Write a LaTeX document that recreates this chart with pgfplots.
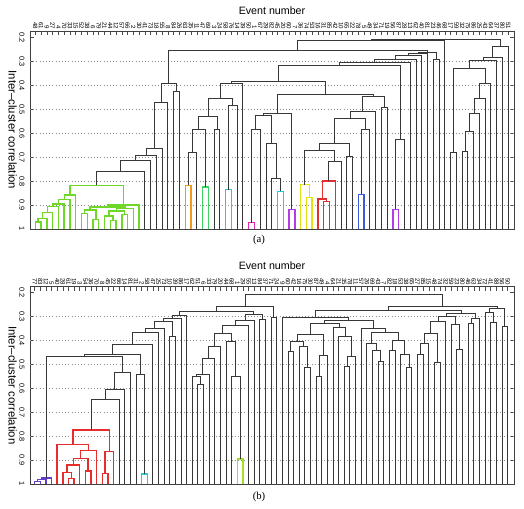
\documentclass[border=0pt]{standalone}
\usepackage{pgfplots}
\pgfplotsset{compat=1.18}
\usepackage{fontspec}
\setmainfont{Liberation Sans}
\newfontfamily\seriffont{Liberation Serif}
\definecolor{dk}{RGB}{55,55,55}
\definecolor{gA}{RGB}{110,215,40}
\definecolor{gB}{RGB}{60,210,100}
\definecolor{orng}{RGB}{240,155,30}
\definecolor{cyn}{RGB}{30,205,215}
\definecolor{mag}{RGB}{225,40,180}
\definecolor{pur}{RGB}{180,60,225}
\definecolor{yel}{RGB}{225,225,20}
\definecolor{rd}{RGB}{230,45,45}
\definecolor{blu}{RGB}{60,90,215}
\definecolor{vio}{RGB}{100,60,205}
\definecolor{ylg}{RGB}{160,225,40}
% link: [colour]{x left}{y left}{x right}{y right}{merge height}
\newcommand{\lk}[6][dk]{\addplot[#1,line width=0.75pt] coordinates {(#2,#3) (#2,#6) (#4,#6) (#4,#5)};}
\newcommand{\ck}[6][dk]{\addplot[#1,line width=1.05pt] coordinates {(#2,#3) (#2,#6) (#4,#6) (#4,#5)};}
\pgfplotsset{dendro/.style={
  scale only axis, width=363pt,
  y dir=reverse, ymax=1,
  axis line style={draw=black!75, line width=0.5pt},
  xtick pos=upper, xticklabel pos=upper,
  ytick pos=both, yticklabel pos=left,
  tick align=inside, major tick length=3pt,
  tick style={black!70, line width=0.4pt},
  ytick={0.2,0.3,0.4,0.5,0.6,0.7,0.8,0.9,1},
  yticklabels={0.2,0.3,0.4,0.5,0.6,0.7,0.8,0.9,1},
  yticklabel style={rotate=-90, anchor=north, font=\fontsize{5.5}{6}\selectfont, inner sep=1pt, yshift=-3pt},
  xticklabel style={rotate=-90, anchor=east, font=\fontsize{4.6}{5}\selectfont, inner sep=1pt},
  extra y ticks={0.3,0.4,0.5,0.6,0.7,0.8,0.9},
  extra y tick labels={},
  extra y tick style={grid=major, major tick length=0pt},
  major grid style={black!45, dotted, line width=0.5pt},
  every axis y label/.style={at={(axis description cs:0,0.5)}, xshift=-13pt, rotate=-90, anchor=center, font=\fontsize{8.5}{10}\selectfont},
  ylabel={Inter--cluster correlation},
  every axis title shift=0pt,
  title={Event number},
  title style={at={(axis description cs:0.5,1)}, yshift=15.5pt, anchor=center, font=\fontsize{8}{9}\selectfont},
}}
\begin{document}
\begin{tikzpicture}
\path[use as bounding box] (0,0) rectangle (393pt,-381.75pt);
%================ (a) =================
\begin{axis}[dendro, at={(22.5pt,-171.75pt)}, anchor=south west, height=148.5pt,
  ymin=0.172, xmin=-0.92, xmax=82.99,
  xtick={0,...,82},
  xticklabels={48,61,9,27,4,70,33,15,52,38,6,79,21,44,12,57,66,2,30,41,73,18,55,8,84,26,63,35,11,47,69,3,24,58,76,14,39,50,1,67,29,82,45,20,60,7,36,74,53,16,31,85,42,10,65,22,78,5,49,34,71,19,56,87,28,13,62,40,81,23,46,68,17,59,32,75,86,25,43,64,37,80,51}]
% green cluster
\ck[gA]{0}{1}{1}{1}{0.97}
\ck[gA]{0.5}{0.97}{2}{1}{0.955}
\ck[gA]{1.25}{0.955}{3}{1}{0.93}
\ck[gA]{2.125}{0.93}{4}{1}{0.907}
\ck[gA]{3.0625}{0.907}{5}{1}{0.896}
\ck[gA]{4.031}{0.896}{6}{1}{0.876}
\ck[gA]{5.016}{0.876}{7}{1}{0.858}
\ck[gA]{8}{1}{9}{1}{0.935}
\ck[gA]{10}{1}{11}{1}{0.96}
\ck[gA]{8.5}{0.935}{10.5}{0.96}{0.92}
\ck[gA]{13}{1}{14}{1}{0.965}
\ck[gA]{12}{1}{13.5}{0.965}{0.945}
\ck[gA]{15}{1}{16}{1}{0.94}
\ck[gA]{12.75}{0.945}{15.5}{0.94}{0.925}
\ck[gA]{14.125}{0.925}{17}{1}{0.915}
\ck[gA]{9.5}{0.92}{15.5625}{0.915}{0.908}
\ck[gA]{12.53}{0.908}{18}{1}{0.9}
\ck[gA]{6.008}{0.858}{15.265}{0.9}{0.818}
% black chain
\lk{10.64}{0.818}{19}{1}{0.758}
\lk{14.82}{0.758}{20}{1}{0.714}
\lk{17.41}{0.714}{21}{1}{0.693}
\lk{19.205}{0.693}{22}{1}{0.662}
\lk{20.60}{0.662}{23}{1}{0.471}
\lk{24}{1}{25}{1}{0.425}
\lk{21.80}{0.471}{24.5}{0.425}{0.39}
% middle
\ck[orng]{26}{1}{27}{1}{0.817}
\lk{26.5}{0.817}{28}{1}{0.679}
\ck[gB]{29}{1}{30}{1}{0.825}
\lk{27.25}{0.679}{29.5}{0.825}{0.585}
\lk{31}{1}{32}{1}{0.585}
\lk{28.375}{0.585}{31.5}{0.585}{0.53}
\ck[cyn]{33}{1}{34}{1}{0.835}
\lk{33.5}{0.835}{35}{1}{0.485}
\lk{29.94}{0.53}{34.25}{0.485}{0.4525}
\lk{32.09}{0.4525}{36}{1}{0.39}
\ck[mag]{37}{1}{38}{1}{0.974}
\lk{37.5}{0.974}{39}{1}{0.585}
\ck[cyn]{42}{1}{43}{1}{0.842}
\lk{41}{1}{42.5}{0.842}{0.79}
\lk{40}{1}{41.75}{0.79}{0.643}
\lk{38.25}{0.585}{40.875}{0.643}{0.527}
\ck[pur]{44}{1}{45}{1}{0.918}
\lk{39.56}{0.527}{44.5}{0.918}{0.515}
\ck[yel]{47}{1}{48}{1}{0.869}
\ck[yel]{46}{1}{47.5}{0.869}{0.814}
\ck[rd]{50}{1}{51}{1}{0.885}
\ck[rd]{49}{1}{50.5}{0.885}{0.875}
\ck[rd]{49.75}{0.875}{52}{1}{0.8}
\lk{50.875}{0.8}{53}{1}{0.717}
\lk{46.75}{0.814}{51.94}{0.717}{0.671}
\lk{54}{1}{55}{1}{0.695}
\lk{49.34}{0.671}{54.5}{0.695}{0.643}
\ck[blu]{56}{1}{57}{1}{0.855}
\lk{56.5}{0.855}{58}{1}{0.582}
\lk{51.92}{0.643}{57.25}{0.582}{0.54}
\lk{54.585}{0.54}{59}{1}{0.508}
\lk{60}{1}{61}{1}{0.494}
\lk{56.79}{0.508}{60.5}{0.494}{0.446}
\lk{42.03}{0.515}{58.65}{0.446}{0.439}
\lk{34.05}{0.39}{50.34}{0.439}{0.383}
\ck[pur]{62}{1}{63}{1}{0.918}
\lk{62.5}{0.918}{64}{1}{0.626}
\lk{42.195}{0.383}{63.25}{0.626}{0.317}
\lk{52.72}{0.317}{65}{1}{0.303}
\lk{58.86}{0.303}{66}{1}{0.29}
\lk{62.43}{0.29}{67}{1}{0.275}
\lk{64.715}{0.275}{68}{1}{0.268}
\lk{69}{1}{70}{1}{0.29}
\lk{66.36}{0.268}{69.5}{0.29}{0.26}
\lk{23.15}{0.39}{67.93}{0.26}{0.254}
\lk{45.54}{0.254}{71}{1}{0.212}
% right
\lk{72}{1}{73}{1}{0.679}
\lk{74}{1}{75}{1}{0.675}
\lk{74.5}{0.675}{76}{1}{0.592}
\lk{75.25}{0.592}{77}{1}{0.515}
\lk{76.125}{0.515}{78}{1}{0.453}
\lk{77.06}{0.453}{79}{1}{0.39}
\lk{72.5}{0.679}{78.03}{0.39}{0.328}
\lk{75.27}{0.328}{80}{1}{0.295}
\lk{77.63}{0.295}{81}{1}{0.283}
\lk{79.32}{0.283}{82}{1}{0.237}
\lk{58.27}{0.212}{80.66}{0.237}{0.208}
\end{axis}
%================ (b) =================
\begin{axis}[dendro, at={(22.5pt,-363pt)}, anchor=south west, height=148pt,
  ymin=0.175, xmin=-0.83, xmax=85.13,
  xtick={0,...,84},
  xticklabels={77,83,12,5,40,28,61,19,3,54,36,70,8,45,22,66,14,81,31,2,58,47,25,73,10,39,86,17,62,51,6,33,79,20,44,68,1,29,55,13,84,37,71,24,9,60,42,16,75,30,87,49,4,64,21,35,78,11,57,26,69,43,7,82,18,53,38,65,27,85,15,48,74,32,59,23,80,46,63,34,72,41,88,56,50}]
\ck[vio]{0}{1}{1}{1}{0.99}
\ck[vio]{0.5}{0.99}{2}{1}{0.982}
\ck[vio]{1.25}{0.982}{3}{1}{0.975}
\ck[rd]{6}{1}{7}{1}{0.977}
\ck[rd]{5}{1}{6.5}{0.977}{0.952}
\ck[rd]{5.75}{0.952}{8}{1}{0.921}
\ck[rd]{9}{1}{10}{1}{0.946}
\ck[rd]{6.875}{0.921}{9.5}{0.946}{0.893}
\ck[rd]{8.19}{0.893}{11}{1}{0.861}
\ck[rd]{4}{1}{9.59}{0.861}{0.835}
\ck[rd]{12}{1}{13}{1}{0.956}
\ck[rd]{12.5}{0.956}{14}{1}{0.865}
\ck[rd]{6.8}{0.835}{13.25}{0.865}{0.775}
\lk{10.025}{0.775}{15}{1}{0.646}
\lk{12.51}{0.646}{16}{1}{0.607}
\lk{14.26}{0.607}{17}{1}{0.533}
\ck[cyn]{19}{1}{20}{1}{0.959}
\lk{18}{1}{19.5}{0.959}{0.542}
\lk{2.125}{0.975}{15.63}{0.533}{0.465}
\lk{8.88}{0.465}{18.75}{0.542}{0.457}
\lk{13.81}{0.457}{21}{1}{0.416}
\lk{17.41}{0.416}{22}{1}{0.365}
\lk{19.7}{0.365}{23}{1}{0.35}
\lk{24}{1}{25}{1}{0.384}
\lk{21.35}{0.35}{24.5}{0.384}{0.322}
\lk{22.93}{0.322}{26}{1}{0.307}
\lk{24.46}{0.307}{27}{1}{0.296}
\lk{29}{1}{30}{1}{0.586}
\lk{28}{1}{29.5}{0.586}{0.552}
\lk{28.75}{0.552}{31}{1}{0.541}
\lk{29.875}{0.541}{32}{1}{0.475}
\lk{30.94}{0.475}{33}{1}{0.426}
\ck[ylg]{36}{1}{37}{1}{0.896}
\lk{35}{1}{36.5}{0.896}{0.551}
\lk{34}{1}{35.75}{0.551}{0.405}
\lk{31.97}{0.426}{34.875}{0.405}{0.37}
\lk{33.42}{0.37}{38}{1}{0.338}
\lk{35.71}{0.338}{39}{1}{0.318}
\lk{40}{1}{41}{1}{0.311}
\lk{37.36}{0.318}{40.5}{0.311}{0.29}
\lk{42}{1}{43}{1}{0.304}
\lk{25.73}{0.296}{38.93}{0.29}{0.28}
\lk{32.33}{0.28}{42.5}{0.304}{0.256}
% right cluster
\lk{45}{1}{46}{1}{0.447}
\lk{48}{1}{49}{1}{0.514}
\lk{47}{1}{48.5}{0.514}{0.426}
\lk{45.5}{0.447}{47.75}{0.426}{0.405}
\lk{50}{1}{51}{1}{0.551}
\lk{50.5}{0.551}{52}{1}{0.463}
\lk{46.625}{0.405}{51.25}{0.463}{0.374}
\lk{55}{1}{56}{1}{0.51}
\lk{55.5}{0.51}{57}{1}{0.468}
\lk{54}{1}{56.25}{0.468}{0.384}
\lk{53}{1}{55.125}{0.384}{0.345}
\lk{48.94}{0.374}{54.06}{0.345}{0.33}
\lk{61}{1}{62}{1}{0.486}
\lk{60}{1}{61.5}{0.486}{0.44}
\lk{59}{1}{60.75}{0.44}{0.412}
\lk{63}{1}{64}{1}{0.44}
\lk{66}{1}{67}{1}{0.514}
\lk{65}{1}{66.5}{0.514}{0.46}
\lk{63.5}{0.44}{65.75}{0.46}{0.398}
\lk{59.875}{0.412}{64.625}{0.398}{0.365}
\lk{58}{1}{62.25}{0.365}{0.349}
\lk{51.5}{0.33}{60.125}{0.349}{0.318}
\lk{44}{1}{55.81}{0.318}{0.305}
\lk{68}{1}{69}{1}{0.457}
\lk{68.5}{0.457}{70}{1}{0.412}
\lk{71}{1}{72}{1}{0.49}
\lk{69.25}{0.412}{71.5}{0.49}{0.37}
\lk{70.375}{0.37}{73}{1}{0.321}
\lk{75}{1}{76}{1}{0.436}
\lk{74}{1}{75.5}{0.436}{0.335}
\lk{71.69}{0.321}{74.75}{0.335}{0.3}
\lk{77}{1}{78}{1}{0.33}
\lk{77.5}{0.33}{79}{1}{0.31}
\lk{73.22}{0.3}{78.25}{0.31}{0.287}
\lk{49.9}{0.305}{75.735}{0.287}{0.275}
\lk{81}{1}{82}{1}{0.324}
\lk{80}{1}{81.5}{0.324}{0.284}
\lk{83}{1}{84}{1}{0.342}
\lk{80.75}{0.284}{83.5}{0.342}{0.266}
\lk{62.82}{0.275}{82.125}{0.266}{0.258}
\lk{37.415}{0.256}{72.47}{0.258}{0.207}
\end{axis}
\node[font=\seriffont\fontsize{8}{9}\selectfont] at (194.25pt,-180pt) {(a)};
\node[font=\seriffont\fontsize{8}{9}\selectfont] at (194.25pt,-372.75pt) {(b)};
\end{tikzpicture}
\end{document}
